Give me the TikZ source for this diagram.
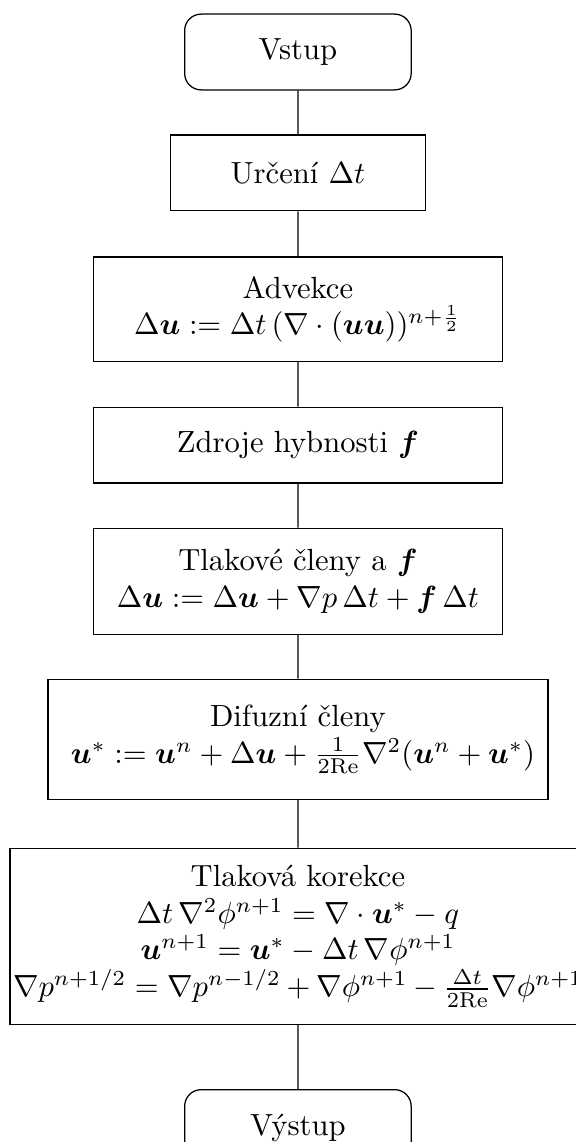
\documentclass[tikz,border=0pt]{standalone}
\usepackage{amsmath, amssymb}
\usepackage{bm}
\usetikzlibrary{positioning}

\begin{document}
\begin{tikzpicture}[
  every node/.style={scale=0.965},
  term/.style={draw, rounded corners=5.2pt, align=center, minimum width=2.6cm, minimum height=0.87cm},
  proc/.style={draw, align=center, minimum width=4.69cm, minimum height=0.87cm},
  link/.style={line width=0.4pt}]
\useasboundingbox (0,0) rectangle (6.37,-12.65);
\node[term] (start) at (3.3, -0.576) {Vstup};
\node[proc, minimum width=2.93cm] (dt) at (3.3, -1.915) {Určení $\Delta t$};
\node[proc, minimum height=1.2cm] (adv) at (3.3, -3.426) {Advekce\\ $\Delta\bm{u} := \Delta t\,(\nabla\cdot(\bm{u}\bm{u}))^{n+\frac{1}{2}}$};
\node[proc] (src) at (3.3, -4.93) {Zdroje hybnosti $\bm{f}$};
\node[proc, minimum height=1.22cm] (press) at (3.3, -6.44) {Tlakové členy a $\bm{f}$\\ $\Delta\bm{u} := \Delta\bm{u} + \nabla p\,\Delta t + \bm{f}\,\Delta t$};
\node[proc, minimum width=5.74cm, minimum height=1.38cm] (diff) at (3.3, -8.19) {Difuzní členy\\ \ $\bm{u}^* := \bm{u}^n + \Delta\bm{u} + \frac{1}{2\mathrm{Re}}\nabla^2(\bm{u}^n + \bm{u}^*)$};
\node[proc, align=flush center, text width=6.54cm, inner xsep=1pt, minimum height=2.02cm] (corr) at (3.3, -10.37) {Tlaková korekce\\ $\Delta t\,\nabla^2\phi^{n+1} = \nabla\cdot\bm{u}^* - q$\\ $\bm{u}^{n+1} = \bm{u}^* - \Delta t\,\nabla\phi^{n+1}$\\ $\nabla p^{n+1/2} = \nabla p^{n-1/2} + \nabla\phi^{n+1} - \frac{\Delta t}{2\mathrm{Re}}\nabla\phi^{n+1}$};
\node[term] (stop) at (3.3, -12.49) {Výstup};
\draw[link] (start) -- (dt); \draw[link] (dt) -- (adv); \draw[link] (adv) -- (src); \draw[link] (src) -- (press);
\draw[link] (press) -- (diff); \draw[link] (diff) -- (corr); \draw[link] (corr) -- (stop);
\end{tikzpicture}
\end{document}
